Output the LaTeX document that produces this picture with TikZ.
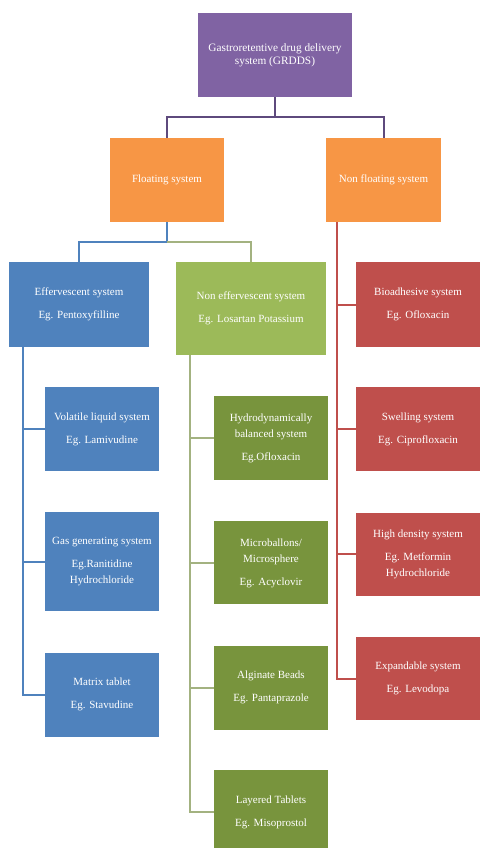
\documentclass[tikz,border=0pt]{standalone}
\usepackage{fontspec}
\setmainfont{Liberation Serif}
\usepackage{xcolor}
\definecolor{grpurple}{rgb}{0.50, 0.39, 0.64}
\definecolor{grorange}{rgb}{0.97, 0.59, 0.27}
\definecolor{grblue}{rgb}{0.31, 0.51, 0.74}
\definecolor{grlime}{rgb}{0.61, 0.73, 0.35}
\definecolor{grolive}{rgb}{0.47, 0.58, 0.24}
\definecolor{grred}{rgb}{0.75, 0.31, 0.30}
\definecolor{purplelink}{rgb}{0.37, 0.29, 0.49}
\definecolor{greenlink}{rgb}{0.64, 0.70, 0.50}
\usepackage{tikz}
\usetikzlibrary{positioning}
\tikzset{
  box/.style={rectangle,inner sep=2pt,align=center,text=white,minimum width=114pt,minimum height=84pt,font=\fontsize{11}{16}\selectfont},
  rootbox/.style={box,fill=grpurple,minimum width=154pt,font=\fontsize{11.3}{13}\selectfont},
  branch/.style={box,fill=grorange},
  bluebox/.style={box,fill=grblue},
  limebox/.style={box,fill=grlime},
  olivebox/.style={box,fill=grolive},
  redbox/.style={box,fill=grred,minimum width=124pt},
  link/.style={line width=2pt},
  toplink/.style={link,draw=purplelink},
  bluelink/.style={link,draw=grblue},
  greenlink/.style={link,draw=greenlink},
  redlink/.style={link,draw=grred}
}

\begin{document}
\begin{tikzpicture}[x=1pt,y=-1pt,node distance=41pt]
  \fill[white] (0,0) rectangle (488,848);
  \useasboundingbox (0,0) rectangle (488,848);

  % Top levels
  \node[rootbox] (root) at (275,55) {Gastroretentive drug delivery\\system (GRDDS)};
  \node[branch] (float) at (167,180) {Floating system};
  \node[branch,minimum width=115pt] (nonfloat) at (383.5,180) {Non floating system};
  \node[bluebox,minimum width=140pt,minimum height=85pt] (eff) at (79,304.5) {Effervescent system\\[7pt]Eg. Pentoxyfilline};
  \node[limebox,minimum width=150pt,minimum height=93pt] (noneff) at (251,308.5) {Non effervescent system\\[7pt]Eg. Losartan Potassium};

  % Effervescent column
  \node[bluebox] (volatile) at (102,429) {Volatile liquid system\\[7pt]Eg. Lamivudine};
  \node[bluebox,below=of volatile,minimum height=99pt] (gas) {Gas generating system\\[7pt]Eg.Ranitidine\\Hydrochloride};
  \node[bluebox,below=of gas] (matrix) {Matrix tablet\\[7pt]Eg. Stavudine};

  % Non effervescent column
  \node[olivebox] (hbs) at (271,438) {Hydrodynamically\\balanced system\\[7pt]Eg.Ofloxacin};
  \node[olivebox,below=of hbs,minimum height=83pt] (micro) {Microballons/\\Microsphere\\[7pt]Eg. Acyclovir};
  \node[olivebox,below=of micro] (alginate) {Alginate Beads\\[7pt]Eg. Pantaprazole};
  \node[olivebox,below=40pt of alginate] (layered) {Layered Tablets\\[7pt]Eg. Misoprostol};

  % Non floating column
  \node[redbox,minimum height=85pt] (bio) at (418,304.5) {Bioadhesive system\\[7pt]Eg. Ofloxacin};
  \node[redbox,below=40pt of bio] (swelling) {Swelling system\\[7pt]Eg. Ciprofloxacin};
  \node[redbox,below=of swelling,minimum height=83pt] (density) {High density system\\[7pt]Eg. Metformin\\Hydrochloride};
  \node[redbox,below=of density,minimum height=83pt] (expand) {Expandable system\\[7pt]Eg. Levodopa};

  % Links
  \draw[toplink] (root.south) -- ++(0,20) -| (float.north);
  \draw[toplink] (root.south) ++(0,20) -| (nonfloat.north);
  \coordinate (fsplit) at ([yshift=-20pt]float.south);
  \draw[bluelink] (float.south) -- (fsplit) -| (eff.north);
  \draw[greenlink] (fsplit) -| (noneff.north);

  \coordinate (blueroot) at ([xshift=14pt]eff.south west);
  \coordinate (greenroot) at ([xshift=14pt]noneff.south west);
  \coordinate (redroot) at ([xshift=11pt]nonfloat.south west);
  \draw[bluelink] (blueroot) |- (matrix);
  \foreach \n in {volatile,gas}
    \draw[bluelink] (blueroot |- \n) -- (\n);
  \draw[greenlink] (greenroot) |- (layered);
  \foreach \n in {hbs,micro,alginate}
    \draw[greenlink] (greenroot |- \n) -- (\n);
  \draw[redlink] (redroot) |- (expand);
  \foreach \n in {bio,swelling,density}
    \draw[redlink] (redroot |- \n) -- (\n);
\end{tikzpicture}
\end{document}
